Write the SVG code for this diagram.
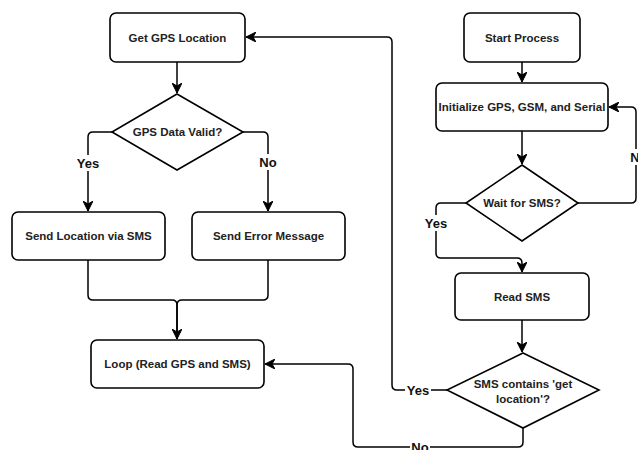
<svg xmlns="http://www.w3.org/2000/svg" width="638" height="450" viewBox="0 0 638 450">
<style>
.n rect, .n polygon { fill: #fff; stroke: #000; stroke-width: 1.6; }
.n text { font-family: "Liberation Sans", Arial, sans-serif; font-weight: bold; font-size: 11.5px; fill: #222; text-anchor: middle; }
.e path { fill: none; stroke: #000; stroke-width: 1.5; }
.lbl rect { fill: #fff; }
.lbl text { font-family: "Liberation Sans", Arial, sans-serif; font-weight: bold; font-size: 13px; fill: #111; text-anchor: middle; }
</style>
<defs>
<marker id="arr" markerUnits="userSpaceOnUse" markerWidth="11" markerHeight="10" refX="10" refY="5" orient="auto" viewBox="0 0 11 10">
<path d="M0,0 L10,5 L0,10 L3,5 Z" fill="#000" stroke="#000" stroke-width="1"/>
</marker>
</defs>
<rect width="638" height="450" fill="#fff"/>
<g id="connectors" class="e">
<path d="M177,62 V93" marker-end="url(#arr)"/>
<path d="M112,132 H93 Q88,132 88,137 V211" marker-end="url(#arr)"/>
<path d="M243,132 H263 Q268,132 268,137 V211" marker-end="url(#arr)"/>
<path d="M88,260 V295 Q88,300 93,300 H172 Q177,300 177,305 V339" marker-end="url(#arr)"/>
<path d="M268,260 V295 Q268,300 263,300 H182 Q177,300 177,305 V339"/>
<path d="M522,62 V82" marker-end="url(#arr)"/>
<path d="M522,131 V164" marker-end="url(#arr)"/>
<path d="M578,203 H631 Q636,203 636,198 V112 Q636,107 631,107 H609" marker-end="url(#arr)"/>
<path d="M466,203 H441 Q436,203 436,208 V253 Q436,258 441,258 H517 Q522,258 522,263 V272" marker-end="url(#arr)"/>
<path d="M522,320 V352" marker-end="url(#arr)"/>
<path d="M447,390 H397 Q392,390 392,385 V42 Q392,37 387,37 H246" marker-end="url(#arr)"/>
<path d="M523,428 V442 Q523,447 518,447 H358 Q353,447 353,442 V369 Q353,364 348,364 H265" marker-end="url(#arr)"/>
</g>
<g id="labels" class="lbl">
<rect x="75" y="155" width="26" height="16"/><text x="88" y="168">Yes</text>
<rect x="258" y="154" width="20" height="16"/><text x="268" y="167">No</text>
<rect x="423" y="215" width="26" height="16"/><text x="436" y="228">Yes</text>
<rect x="628" y="149" width="12" height="16"/><text x="639" y="162">No</text>
<rect x="405" y="382" width="26" height="16"/><text x="418" y="395">Yes</text>
<rect x="410" y="439" width="20" height="16"/><text x="420" y="452">No</text>
</g>
<g id="get-gps" class="n"><rect x="110" y="13" width="135" height="49" rx="6"/><text x="177.5" y="41.5">Get GPS Location</text></g>
<g id="gps-valid" class="n"><polygon points="177,94 243,132 177,170 112,132"/><text x="177.5" y="136">GPS Data Valid?</text></g>
<g id="send-location" class="n"><rect x="12" y="212" width="153" height="48" rx="6"/><text x="88.5" y="240">Send Location via SMS</text></g>
<g id="send-error" class="n"><rect x="192" y="212" width="153" height="48" rx="6"/><text x="268.5" y="240">Send Error Message</text></g>
<g id="loop" class="n"><rect x="91" y="340" width="173" height="48" rx="6"/><text x="177.5" y="368">Loop (Read GPS and SMS)</text></g>
<g id="start" class="n"><rect x="464" y="13" width="116" height="49" rx="6"/><text x="522" y="41.5">Start Process</text></g>
<g id="init" class="n"><rect x="436" y="83" width="172" height="48" rx="6"/><text x="522" y="111">Initialize GPS, GSM, and Serial</text></g>
<g id="wait-sms" class="n"><polygon points="522,165 578,203 522,241 466,203"/><text x="522" y="207">Wait for SMS?</text></g>
<g id="read-sms" class="n"><rect x="455" y="273" width="134" height="47" rx="6"/><text x="522" y="301">Read SMS</text></g>
<g id="sms-contains" class="n"><polygon points="523,353 599,390 523,428 447,390"/><text x="523" y="388">SMS contains 'get</text><text x="523" y="403">location'?</text></g>
</svg>
